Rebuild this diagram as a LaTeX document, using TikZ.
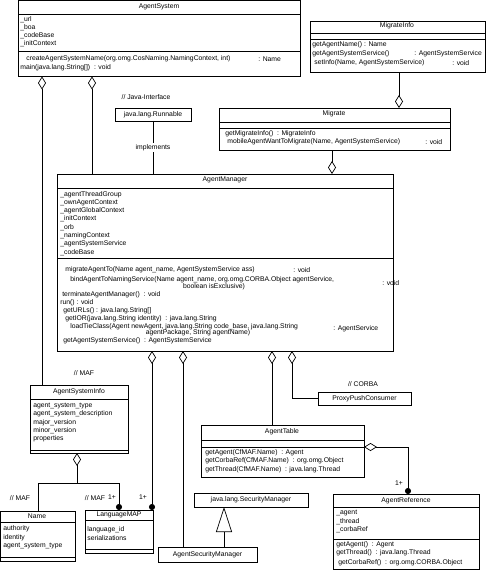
\documentclass[tikz,border=0pt]{standalone}
\usepackage{fontspec}
\setmainfont{Liberation Sans}
\usetikzlibrary{arrows.meta,positioning}

\begin{document}
\begin{tikzpicture}[x=1pt, y=-1pt, line width=0.7pt,
        cls/.style = {draw, rectangle, anchor=north west, inner sep=0pt, outer sep=0pt, font=\fontsize{6.8}{8}\selectfont},
        txt/.style = {anchor=west, inner sep=0pt, font=\fontsize{6.8}{8}\selectfont},
        ttl/.style = {inner sep=0pt, font=\fontsize{6.8}{8}\selectfont},
        agg/.style = {{Diamond[open, length=13pt, width=8pt]}-},
        aggdot/.style = {{Diamond[open, length=13pt, width=8pt]}-{Circle[length=6pt]}},
        dot/.style = {-{Circle[length=6pt]}},
        tri/.style = {-{Triangle[open, length=25pt, width=16pt]}},]
    \useasboundingbox (0,0) rectangle (487,572);

    % AgentSystem
    \node[cls, minimum width=282pt, minimum height=76pt] (AgentSystem) at (18,0.5) {};
    \node[ttl] (as-t) at (159,7) {AgentSystem};
    \draw (18,14) -- (300,14);
    \foreach \t [count=\i] in {\_url, \_boa, \_codeBase, \_initContext}
        \node[txt] (as-a\i) at (20,12+8*\i) {\t};
    \draw (18,51) -- (300,51);
    \node[txt] (as-m1) at (26,59) {createAgentSystemName(org.omg.CosNaming.NamingContext, int)};
    \node[txt] (as-r1) at (258,59) {: Name};
    \node[txt] (as-m2) at (20,68) {main(java.lang.String[])\ \ : void};

    % MigrateInfo
    \node[cls, minimum width=175pt, minimum height=51pt] (MigrateInfo) at (310,21) {};
    \node[ttl] (mi-t) at (397,26) {MigrateInfo};
    \draw (310,33) -- (485,33);
    \draw (310,39) -- (485,39);
    \node[txt] (mi-m1) at (312,45) {getAgentName() : Name};
    \node[txt] (mi-m2) at (312,54) {getAgentSystemService()};
    \node[txt] (mi-r2) at (414,54) {: AgentSystemService};
    \node[txt] (mi-m3) at (314,63) {setInfo(Name, AgentSystemService)};
    \node[txt] (mi-r3) at (452,63) {: void};

    % java.lang.Runnable
    \node[ttl] (javaIf) at (146,97) {// Java-Interface};
    \node[cls, minimum width=76pt, minimum height=13pt] (Runnable) at (115,108) {java.lang.Runnable};

    % Migrate
    \node[cls, minimum width=231pt, minimum height=42pt] (Migrate) at (219,108) {};
    \node[ttl] (mg-t) at (334,114) {Migrate};
    \draw (219,122) -- (450,122);
    \draw (219,128) -- (450,128);
    \node[txt] (mg-m1) at (225,134) {getMigrateInfo()\ \ : MigrateInfo};
    \node[txt] (mg-m2) at (227,142) {mobileAgentWantToMigrate(Name, AgentSystemService)};
    \node[txt] (mg-r2) at (425,142) {: void};

    % AgentManager
    \node[cls, minimum width=336pt, minimum height=177pt] (AgentManager) at (57,174) {};
    \node[ttl] (am-t) at (225,180) {AgentManager};
    \draw (57,188) -- (393,188);
    \foreach \t [count=\i] in {\_agentThreadGroup, \_ownAgentContext, \_agentGlobalContext, \_initContext,
            \_orb, \_namingContext, \_agentSystemService, \_codeBase}
        \node[txt] (am-a\i) at (60,186+8.3*\i) {\t};
    \draw (57,258) -- (393,258);
    \node[txt] (am-m1) at (65,270) {migrateAgentTo(Name agent\_name, AgentSystemService ass)};
    \node[txt] (am-r1) at (293,270) {: void};
    \node[txt] (am-m2) at (70,280) {bindAgentToNamingService(Name agent\_name, org.omg.CORBA.Object agentService,};
    \node[ttl] (am-m2b) at (214,287) {boolean isExclusive)};
    \node[txt] (am-r2) at (382,283) {: void};
    \node[txt] (am-m3) at (62,295) {terminateAgentManager()\ \ : void};
    \node[txt] (am-m4) at (60,303) {run() : void};
    \node[txt] (am-m5) at (63,311) {getURLs() : java.lang.String[]};
    \node[txt] (am-m6) at (65,319) {getIOR(java.lang.String identity)\ \ : java.lang.String};
    \node[txt] (am-m7) at (70,327) {loadTieClass(Agent newAgent, java.lang.String code\_base, java.lang.String};
    \node[ttl] (am-m7b) at (198,333) {agentPackage, String agentName)};
    \node[txt] (am-r7) at (333,329) {: AgentService};
    \node[txt] (am-m8) at (63,341) {getAgentSystemService()\ \ : AgentSystemService};

    % AgentSystemInfo
    \node[ttl] (maf1) at (84,373) {// MAF};
    \node[cls, minimum width=98pt, minimum height=68pt] (AgentSystemInfo) at (30,385) {};
    \node[ttl] (asi-t) at (79,392) {AgentSystemInfo};
    \draw (30,399) -- (128,399);
    \foreach \t [count=\i] in {agent\_system\_type, agent\_system\_description, major\_version, minor\_version, properties}
        \node[txt] (asi-a\i) at (33,397.8+8.2*\i) {\t};
    \draw (30,450) -- (128,450);

    % Name
    \node[ttl] (maf2) at (20,498) {// MAF};
    \node[cls, minimum width=75pt, minimum height=50pt] (Name) at (0.5,511) {};
    \node[ttl] (nm-t) at (37,516) {Name};
    \draw (0.5,522) -- (75.5,522);
    \foreach \t [count=\i] in {authority, identity, agent\_system\_type}
        \node[txt] (nm-a\i) at (3,520.5+8.5*\i) {\t};
    \draw (0.5,557) -- (75.5,557);

    % LanguageMAP
    \node[ttl] (maf3) at (95,498) {// MAF};
    \node[ttl] (mult1) at (112,497) {1+};
    \node[ttl] (mult2) at (143,497) {1+};
    \node[cls, minimum width=68pt, minimum height=43pt] (LanguageMAP) at (85,510) {};
    \node[ttl] (lm-t) at (119,515) {LanguageMAP};
    \draw (85,520) -- (153,520);
    \foreach \t [count=\i] in {language\_id, serializations}
        \node[txt] (lm-a\i) at (87,521.5+8.3*\i) {\t};
    \draw (85,549) -- (153,549);

    % security manager
    \node[cls, minimum width=114pt, minimum height=14pt] (SecurityManager) at (194,493) {java.lang.SecurityManager};
    \node[cls, minimum width=99pt, minimum height=15pt] (AgentSecurityManager) at (158,547) {AgentSecurityManager};

    % AgentTable
    \node[cls, minimum width=163pt, minimum height=52pt] (AgentTable) at (201,425) {};
    \node[ttl] (at-t) at (282,432) {AgentTable};
    \draw (201,440) -- (364,440);
    \draw (201,447) -- (364,447);
    \node[txt] (at-m1) at (205,453) {getAgent(CfMAF.Name)\ \ : Agent};
    \node[txt] (at-m2) at (205,461) {getCorbaRef(CfMAF.Name)\ \ : org.omg.Object};
    \node[txt] (at-m3) at (205,470) {getThread(CfMAF.Name)\ \ : java.lang.Thread};

    % ProxyPushConsumer
    \node[ttl] (corba) at (363,384) {// CORBA};
    \node[cls, minimum width=93pt, minimum height=13pt] (ProxyPushConsumer) at (318,392) {ProxyPushConsumer};

    % AgentReference
    \node[ttl] (mult3) at (399,483) {1+};
    \node[cls, minimum width=146pt, minimum height=75pt] (AgentReference) at (333,494) {};
    \node[ttl] (ar-t) at (406,501) {AgentReference};
    \draw (333,507) -- (479,507);
    \foreach \t [count=\i] in {\_agent, \_thread, \_corbaRef}
        \node[txt] (ar-a\i) at (336,504.5+8.5*\i) {\t};
    \draw (333,539) -- (479,539);
    \node[txt] (ar-m1) at (336,545) {getAgent()\ \ : Agent};
    \node[txt] (ar-m2) at (336,553) {getThread()\ \ : java.lang.Thread};
    \node[txt] (ar-m3) at (338,563) {getCorbaRef()\ \ : org.omg.CORBA.Object};

    % connectors
    \coordinate (branch) at (77,483);
    \draw[agg] (AgentSystem.south -| 42,0) -- (AgentSystemInfo.north -| 42,0);
    \draw[agg] (AgentSystem.south -| 92,0) -- (AgentManager.north -| 92,0);
    \draw[agg] (Migrate.north -| 399,0) -- (MigrateInfo.south -| 399,0);
    \draw[agg] (AgentManager.north -| 332,0) -- (Migrate.south -| 332,0);
    \draw (Runnable) -- (AgentManager.north -| Runnable)
        node[midway, fill=white, inner sep=1pt, font=\fontsize{6.8}{8}\selectfont] (impl) {implements};
    \draw[aggdot] (AgentManager.south -| 152,0) -- (LanguageMAP.north -| 152,0);
    \draw[agg] (AgentManager.south -| 183,0) -- (AgentSecurityManager.north -| 183,0);
    \draw[agg] (AgentManager.south -| 272,0) -- (AgentTable.north -| 272,0);
    \draw[agg] (AgentManager.south -| 292,0) |- (ProxyPushConsumer.west);
    \draw[agg] (AgentSystemInfo.south -| branch) -- (branch) -| (Name.north -| 38,0);
    \draw[dot] (branch) -| (LanguageMAP.north -| 119,0);
    \draw[tri] (AgentSecurityManager.north -| 224,0) -- (SecurityManager.south -| 224,0);
    \draw[aggdot] (AgentTable.east |- 0,447) -| (AgentReference.north -| 408,0);
\end{tikzpicture}
\end{document}
